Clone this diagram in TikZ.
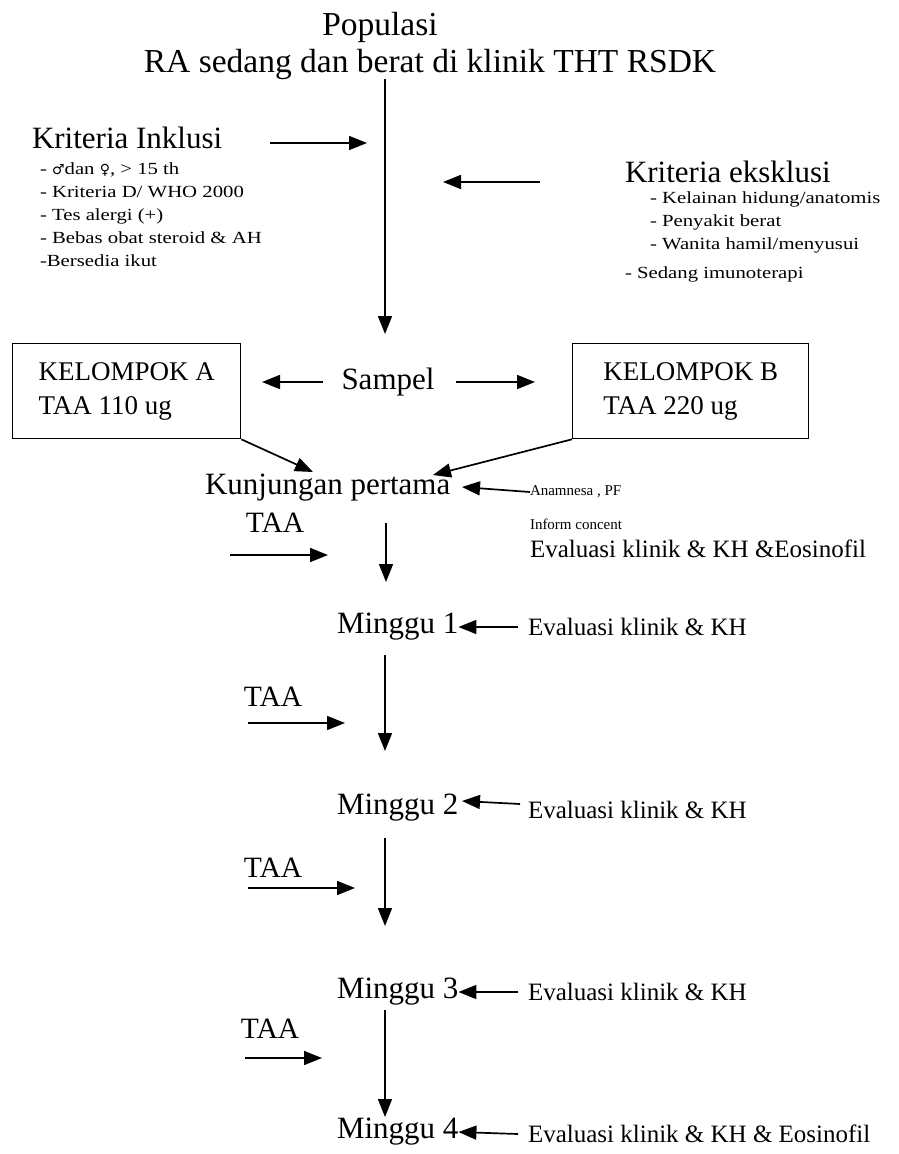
\documentclass[tikz,border=0pt]{standalone}
\usepackage{fontspec}
\setmainfont{Liberation Serif}
\newfontfamily\widefont{Liberation Serif}[FakeStretch=1.22]
\newfontfamily\symfont{DejaVu Sans}
\usetikzlibrary{arrows.meta}
\begin{document}
\begin{tikzpicture}[x=1pt,y=-1pt,
  txt/.style={inner sep=0pt, outer sep=0pt},
  title/.style={txt, font=\fontsize{33.5}{38}\selectfont},
  big/.style={txt, font=\fontsize{31}{36}\selectfont},
  mid/.style={txt, font=\fontsize{25}{34}\selectfont},
  taa/.style={txt, font=\fontsize{29.5}{32}\selectfont},
  small/.style={txt, font=\widefont\fontsize{17}{23}\selectfont, align=left},
  tiny/.style={txt, font=\fontsize{15}{18}\selectfont},
  box/.style={draw, line width=1.3pt, inner sep=0pt, align=left, font=\fontsize{27}{34}\selectfont},
  arr/.style={line width=1.7pt, -{Triangle[length=18pt,width=14pt]}},
]
\useasboundingbox (0,0) rectangle (899,1154);

% title
\node[title] (pop) at (380,27) {Populasi};
\node[title] (ra) at (430,64) {RA sedang dan berat di klinik THT RSDK};

% main vertical arrow
\coordinate (vtop) at (385,79);
\coordinate (vbot) at (385,334);
\draw[arr] (vtop) -- (vbot);

% inclusion
\node[big, anchor=west] (inkl) at (32,138) {Kriteria Inklusi};
\coordinate (ia1) at (270,143);
\coordinate (ia2) at (367,143);
\draw[arr] (ia1) -- (ia2);
\node[small, anchor=north west] (inkllist) at (40,163) {- {\symfont\fontsize{14}{23}\selectfont ♂}dan {\symfont\fontsize{14}{23}\selectfont ♀}, > 15 th\\- Kriteria D/ WHO 2000\\- Tes alergi (+)\\- Bebas obat steroid \& AH\\-Bersedia ikut};

% exclusion
\coordinate (ea1) at (540,182);
\coordinate (ea2) at (443,182);
\draw[arr] (ea1) -- (ea2);
\node[big, anchor=west] (eksl) at (625,172) {Kriteria eksklusi};
\node[small, anchor=north west] (eksllist) at (650,192) {- Kelainan hidung/anatomis\\- Penyakit berat\\- Wanita hamil/menyusui};
\node[small, anchor=west] (eksl4) at (625,274) {- Sedang imunoterapi};

% groups
\node[box, anchor=north west, minimum width=228pt, minimum height=95pt] (boxA) at (12,343) {KELOMPOK A\\TAA 110 ug};
\node[box, anchor=north west, minimum width=236pt, minimum height=95pt] (boxB) at (572,343) {KELOMPOK B\\TAA 220 ug};
\node[big] (sampel) at (388,382) {Sampel};
\coordinate (sl1) at (323,382);
\coordinate (sl2) at (262,382);
\coordinate (sr1) at (456,382);
\coordinate (sr2) at (535,382);
\draw[arr] (sl1) -- (sl2);
\draw[arr] (sr1) -- (sr2);

% first visit
\node[big, anchor=west] (kunj) at (205,488) {Kunjungan pertama};
\coordinate (ka) at (313,472);
\coordinate (kb) at (433,475);
\draw[arr] (boxA.south east) -- (ka);
\draw[arr] (boxB.south west) -- (kb);
\node[tiny, anchor=west] (anam) at (530,492) {Anamnesa , PF};
\coordinate (an2) at (462,487);
\draw[arr] (anam.west) -- (an2);
\node[tiny, anchor=west] (inform) at (530,524) {Inform concent};
\node[mid, anchor=west] (ev0) at (530,549) {Evaluasi klinik \& KH \&Eosinofil};

\node[taa] (taa1) at (275,523) {TAA};
\coordinate (t1a) at (230,555);
\coordinate (t1b) at (328,555);
\draw[arr] (t1a) -- (t1b);
\coordinate (v1a) at (386,523);
\coordinate (v1b) at (386,582);
\draw[arr] (v1a) -- (v1b);

% week 1
\node[big, anchor=west] (m1) at (337,627) {Minggu 1};
\node[mid, anchor=west] (ev1) at (528,627) {Evaluasi klinik \& KH};
\draw[arr] (ev1.west) ++(-10,0) coordinate (e1t) (e1t) -- (m1.east);

\coordinate (v2a) at (385,655);
\coordinate (v2b) at (385,751);
\draw[arr] (v2a) -- (v2b);
\node[taa] (taa2) at (273,697) {TAA};
\coordinate (t2a) at (248,723);
\coordinate (t2b) at (345,723);
\draw[arr] (t2a) -- (t2b);

% week 2
\node[big, anchor=west] (m2) at (337,808) {Minggu 2};
\node[mid, anchor=west] (ev2) at (528,810) {Evaluasi klinik \& KH};
\coordinate (e2t) at (520,804);
\coordinate (e2h) at (462,801);
\draw[arr] (e2t) -- (e2h);

\coordinate (v3a) at (385,838);
\coordinate (v3b) at (385,926);
\draw[arr] (v3a) -- (v3b);
\node[taa] (taa3) at (273,868) {TAA};
\coordinate (t3a) at (248,888);
\coordinate (t3b) at (355,888);
\draw[arr] (t3a) -- (t3b);

% week 3
\node[big, anchor=west] (m3) at (337,992) {Minggu 3};
\node[mid, anchor=west] (ev3) at (528,992) {Evaluasi klinik \& KH};
\draw[arr] (ev3.west) ++(-10,0) coordinate (e3t) (e3t) -- (m3.east);

\coordinate (v4a) at (385,1010);
\coordinate (v4b) at (385,1117);
\draw[arr] (v4a) -- (v4b);
\node[taa] (taa4) at (270,1029) {TAA};
\coordinate (t4a) at (245,1058);
\coordinate (t4b) at (322,1058);
\draw[arr] (t4a) -- (t4b);

% week 4
\node[big, anchor=west] (m4) at (337,1132) {Minggu 4};
\node[mid, anchor=west] (ev4) at (528,1134) {Evaluasi klinik \& KH \& Eosinofil};
\draw[arr] (ev4.west) ++(-10,0) coordinate (e4t) (e4t) -- (m4.east);
\end{tikzpicture}
\end{document}
